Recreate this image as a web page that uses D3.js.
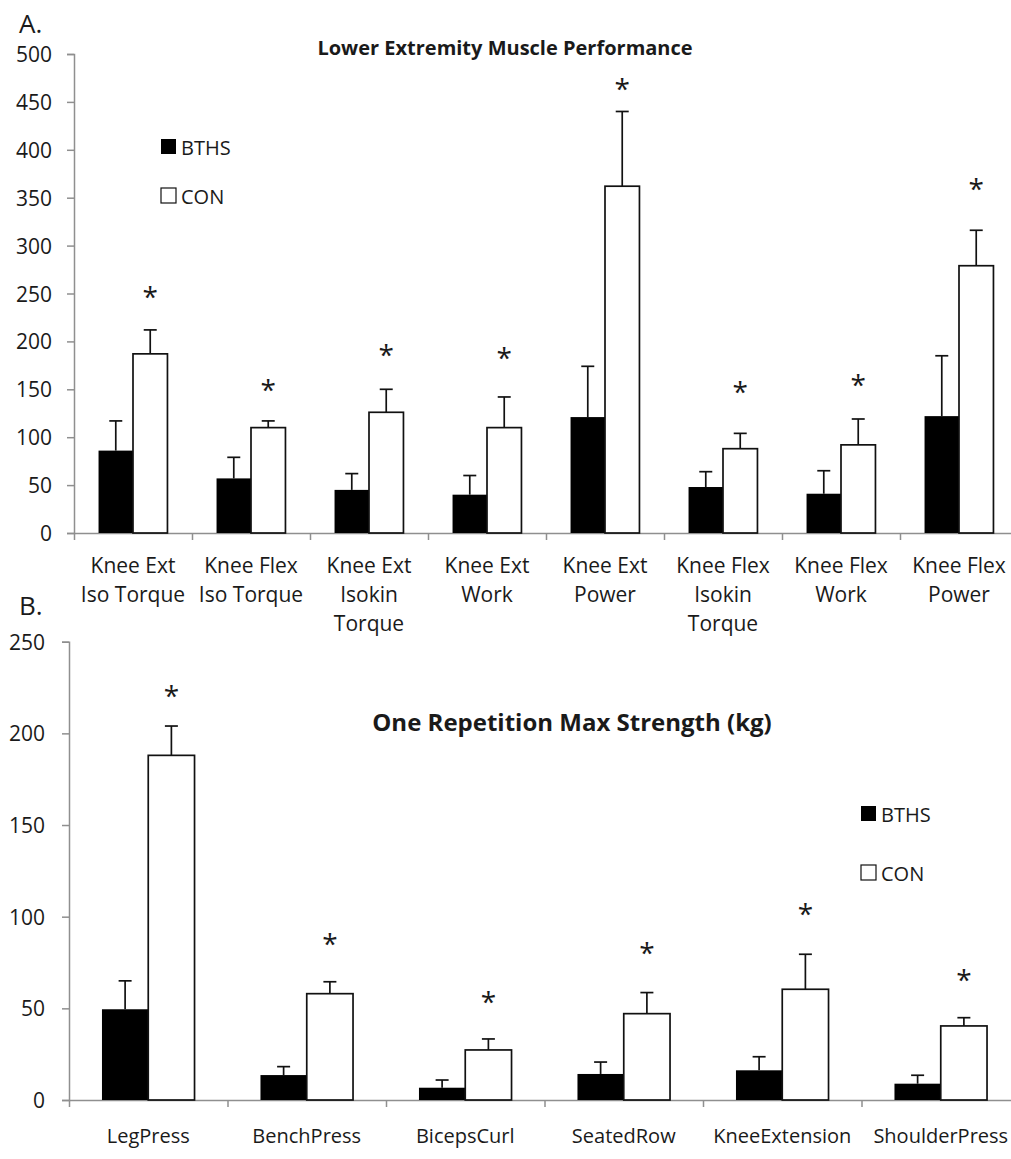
<!DOCTYPE html>
<html>
<head>
<meta charset="utf-8">
<script src="https://cdn.jsdelivr.net/npm/d3@7"></script>
<style>
  html, body { margin: 0; padding: 0; background: #fff; }
  svg { display: block; }
  text { font-family: "Open Sans", "Noto Sans", sans-serif; fill: #1a1a1a; }
</style>
</head>
<body>
<svg id="chart" width="1011" height="1159"></svg>
<script>
// ---------- Panel A data ----------
const lowerCategories = [
  ["Knee Ext", "Iso Torque"],
  ["Knee Flex", "Iso Torque"],
  ["Knee Ext", "Isokin", "Torque"],
  ["Knee Ext", "Work"],
  ["Knee Ext", "Power"],
  ["Knee Flex", "Isokin", "Torque"],
  ["Knee Flex", "Work"],
  ["Knee Flex", "Power"]
];
const lowerBTHS    = [86, 57, 45, 40, 121, 48, 41, 122];
const lowerBTHSErr = [31, 22, 17, 20, 53, 16, 24, 63];
const lowerCON     = [187, 110, 126, 110, 362, 88, 92, 279];
const lowerCONErr  = [25, 7, 24, 32, 78, 16, 27, 37];
const lowerStar    = [252, 155, 191, 188, 469, 152, 160, 364];
const lowerTicks   = [0, 50, 100, 150, 200, 250, 300, 350, 400, 450, 500];

// ---------- Panel B data ----------
const rmCategories = [["LegPress"], ["BenchPress"], ["BicepsCurl"], ["SeatedRow"], ["KneeExtension"], ["ShoulderPress"]];
const rmBTHS    = [49.5, 13.6, 6.7, 14.2, 16.2, 8.9];
const rmBTHSErr = [15.5, 4.6, 4.2, 6.5, 7.4, 4.6];
const rmCON     = [188, 58, 27.3, 47.1, 60.4, 40.4];
const rmCONErr  = [16, 6.5, 6, 11.5, 19.1, 4.5];
const rmStar    = [223, 88, 56, 83, 104, 68];
const rmTicks   = [0, 50, 100, 150, 200, 250];

const seriesNames = ["BTHS", "CON"];

const svg = d3.select("#chart");
const AXIS_COLOR = "#8f8f8f";

function drawPanel(cfg) {
  const g = svg.append("g");
  const n = cfg.categories.length;
  const y = d3.scaleLinear().domain(cfg.yDomain).range([cfg.y0, cfg.yTop]);
  const x0 = d3.scaleBand().domain(d3.range(n)).range([cfg.xLeft, cfg.xLeft + n * cfg.band]);
  const bw = x0.bandwidth();
  const x1 = d3.scaleBand().domain(seriesNames).range([bw * 0.208, bw * 0.792]);

  // y axis
  const yAxis = d3.axisLeft(y).tickValues(cfg.ticks).tickSize(7).tickPadding(cfg.tickPad).tickSizeOuter(7);
  const ya = g.append("g").attr("transform", `translate(${cfg.xLeft},0)`).call(yAxis);
  ya.selectAll("path, line").attr("stroke", AXIS_COLOR).attr("stroke-width", 1.5);
  ya.selectAll("text").style("font-size", "21px").attr("fill", "#1a1a1a").attr("dy", "0.36em");

  // x axis: ticks at band boundaries
  const xb = d3.scaleLinear().domain([0, n]).range([cfg.xLeft, cfg.xLeft + n * cfg.band]);
  const xAxis = d3.axisBottom(xb).tickValues(d3.range(0, n + 1)).tickFormat("").tickSize(7).tickSizeOuter(0);
  const xa = g.append("g").attr("transform", `translate(0,${cfg.y0})`).call(xAxis);
  xa.selectAll("path, line").attr("stroke", AXIS_COLOR).attr("stroke-width", 1.5);

  const rows = cfg.categories.map((c, i) => ({
    i,
    BTHS: cfg.bths[i], BTHSErr: cfg.bthsErr[i],
    CON: cfg.con[i], CONErr: cfg.conErr[i],
    star: cfg.star[i]
  }));

  const grp = g.selectAll("g.grp").data(rows).join("g")
    .attr("class", "grp")
    .attr("transform", d => `translate(${x0(d.i)},0)`);

  // error bars
  seriesNames.forEach(s => {
    grp.append("line")
      .attr("x1", x1(s) + x1.bandwidth() / 2).attr("x2", x1(s) + x1.bandwidth() / 2)
      .attr("y1", d => y(d[s])).attr("y2", d => y(d[s] + d[s + "Err"]))
      .attr("stroke", "#111").attr("stroke-width", 1.7);
    grp.append("line")
      .attr("x1", x1(s) + x1.bandwidth() / 2 - 6.5).attr("x2", x1(s) + x1.bandwidth() / 2 + 6.5)
      .attr("y1", d => y(d[s] + d[s + "Err"])).attr("y2", d => y(d[s] + d[s + "Err"]))
      .attr("stroke", "#111").attr("stroke-width", 1.7);
  });

  // bars
  grp.append("rect")
    .attr("x", x1("BTHS")).attr("width", x1.bandwidth())
    .attr("y", d => y(d.BTHS)).attr("height", d => y(0) - y(d.BTHS))
    .attr("fill", "#000");
  grp.append("rect")
    .attr("x", x1("CON")).attr("width", x1.bandwidth())
    .attr("y", d => y(d.CON)).attr("height", d => y(0) - y(d.CON))
    .attr("fill", "#fff").attr("stroke", "#111").attr("stroke-width", 1.7);

  // significance stars
  grp.append("text")
    .attr("x", x1("CON") + x1.bandwidth() / 2)
    .attr("y", d => y(d.star) + 15)
    .attr("text-anchor", "middle")
    .style("font-size", "28px")
    .text("*");

  // category labels
  const lab = g.selectAll("text.cat").data(cfg.categories).join("text")
    .attr("class", "cat")
    .attr("text-anchor", "middle")
    .attr("x", (d, i) => x0(i) + bw / 2)
    .attr("y", cfg.labelY)
    .style("font-size", cfg.labelSize + "px");
  lab.selectAll("tspan").data(d => d).join("tspan")
    .attr("x", function () { return d3.select(this.parentNode).attr("x"); })
    .attr("dy", (d, i) => i === 0 ? 0 : 29)
    .text(d => d);

  // title
  g.append("text").attr("x", cfg.titleX).attr("y", cfg.titleY)
    .attr("text-anchor", "middle").style("font-size", cfg.titleSize + "px").style("font-weight", "bold")
    .text(cfg.title);

  // panel letter
  g.append("text").attr("x", cfg.letterX).attr("y", cfg.letterY)
    .style("font-size", "26px").text(cfg.letter);

  // legend
  const lg = g.append("g").attr("transform", `translate(${cfg.legX},${cfg.legY})`);
  seriesNames.forEach((s, i) => {
    lg.append("rect").attr("x", 0).attr("y", i * cfg.legGap).attr("width", 15).attr("height", 15)
      .attr("fill", s === "BTHS" ? "#000" : "#fff")
      .attr("stroke", "#111").attr("stroke-width", s === "BTHS" ? 0 : 1.2);
    lg.append("text").attr("x", 20).attr("y", i * cfg.legGap + 16)
      .style("font-size", "20px").text(s);
  });
}

drawPanel({
  categories: lowerCategories, bths: lowerBTHS, bthsErr: lowerBTHSErr,
  con: lowerCON, conErr: lowerCONErr, star: lowerStar, ticks: lowerTicks,
  yDomain: [0, 500], y0: 533, yTop: 54, xLeft: 74, band: 118, tickPad: 15,
  labelY: 573, labelSize: 21,
  title: "Lower Extremity Muscle Performance", titleX: 505, titleY: 55, titleSize: 20,
  letter: "A.", letterX: 19, letterY: 33,
  legX: 161, legY: 139, legGap: 49
});

drawPanel({
  categories: rmCategories, bths: rmBTHS, bthsErr: rmBTHSErr,
  con: rmCON, conErr: rmCONErr, star: rmStar, ticks: rmTicks,
  yDomain: [0, 250], y0: 1100, yTop: 641.7, xLeft: 69, band: 158.5, tickPad: 17,
  labelY: 1143, labelSize: 20,
  title: "One Repetition Max Strength (kg)", titleX: 572, titleY: 731, titleSize: 24,
  letter: "B.", letterX: 19, letterY: 615,
  legX: 861, legY: 806, legGap: 59
});
</script>
</body>
</html>
